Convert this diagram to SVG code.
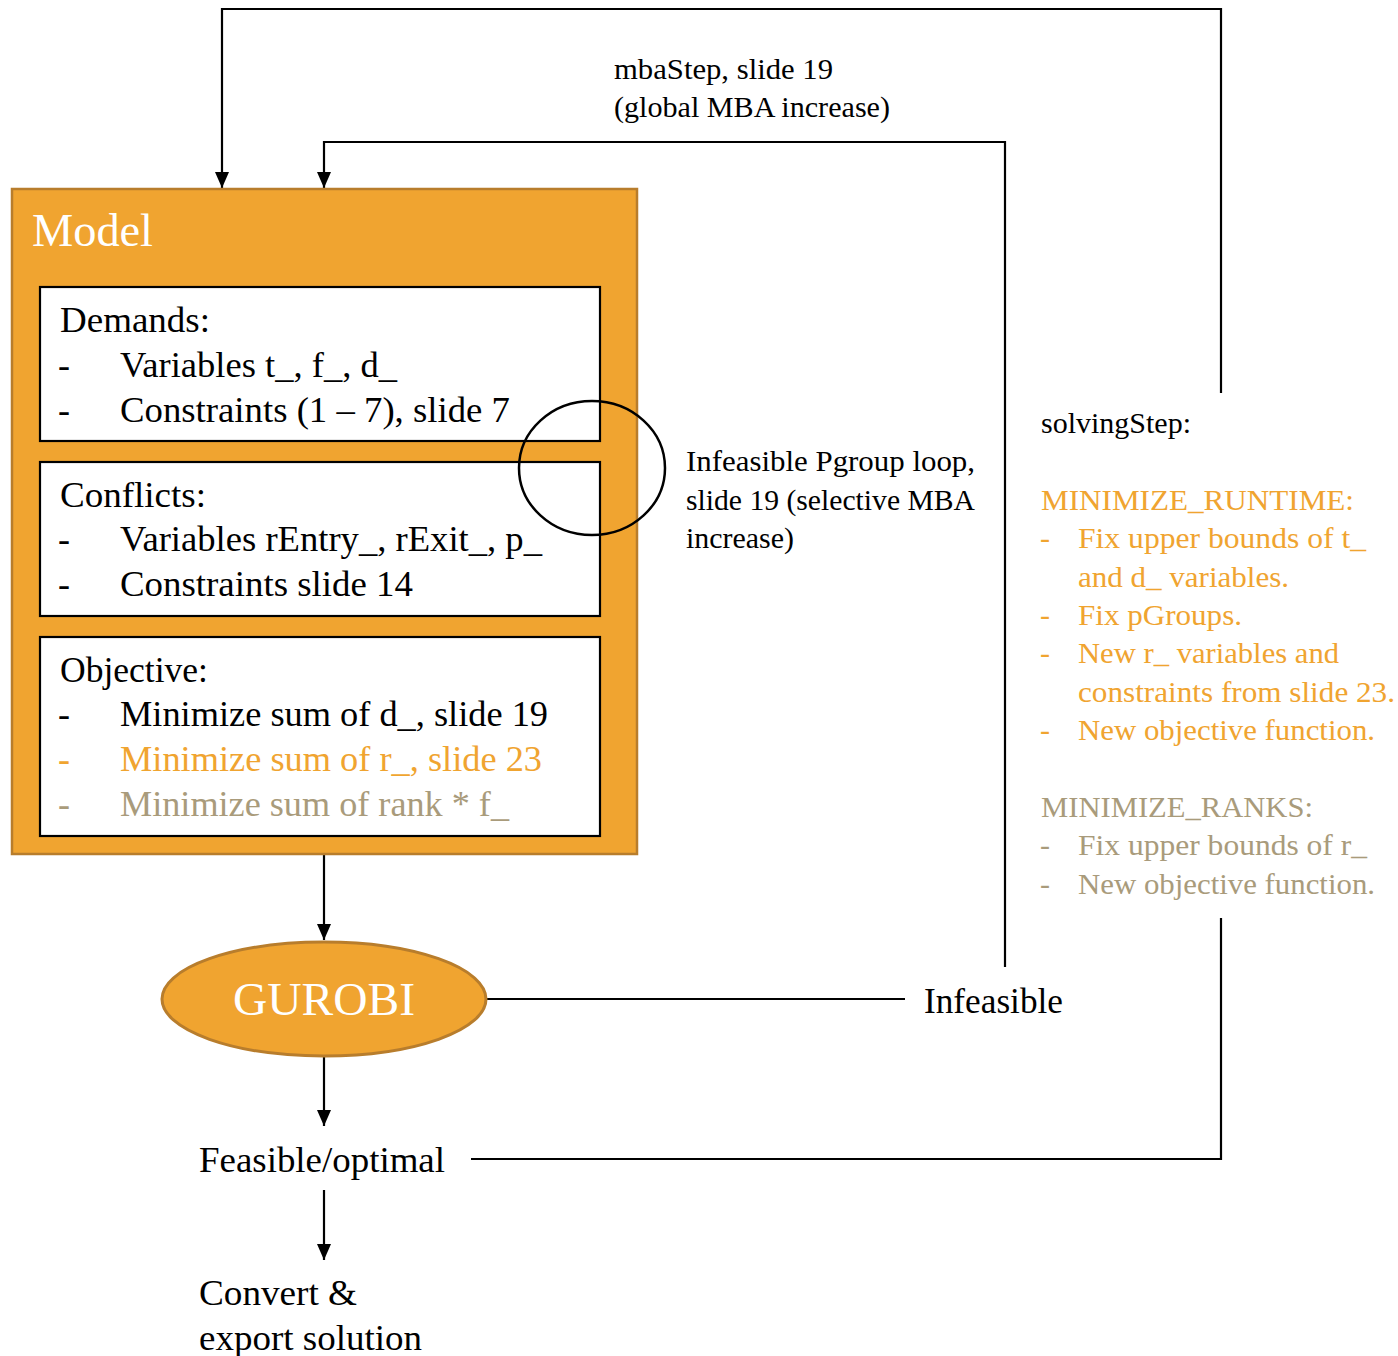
<svg xmlns="http://www.w3.org/2000/svg" width="1398" height="1356" viewBox="0 0 1398 1356">
<defs>
<style>
text{font-family:"Liberation Serif","Times New Roman",serif;fill:#000}
.b{font-size:36px}
.m{font-size:30px}
.or{fill:#F0A430}
.tan{fill:#A99B7B}
.w{fill:#fff}
.box{fill:#fff;stroke:#000;stroke-width:2.2}
.con{fill:none;stroke:#000;stroke-width:2.2}
</style>
<marker id="ah" markerUnits="userSpaceOnUse" markerWidth="14" markerHeight="16" viewBox="0 0 14 16" refX="7" refY="16" orient="auto-start-reverse">
<path d="M0,0 L14,0 L7,16 Z" fill="#000" transform="rotate(0)"/>
</marker>
<marker id="ad" markerUnits="userSpaceOnUse" markerWidth="16" markerHeight="14" viewBox="0 0 16 14" refX="16" refY="7" orient="auto">
<path d="M0,0 L16,7 L0,14 Z" fill="#000"/>
</marker>
</defs>
<rect width="1398" height="1356" fill="#fff"/>

<g id="connectors">
<polyline class="con" points="1221,393 1221,9 222,9 222,188" marker-end="url(#ad)"/>
<polyline class="con" points="1005,967 1005,142 324,142 324,188" marker-end="url(#ad)"/>
<polyline class="con" points="1221,918 1221,1159 471,1159"/>
<line class="con" x1="487" y1="999" x2="905" y2="999"/>
<line class="con" x1="324" y1="855" x2="324" y2="940" marker-end="url(#ad)"/>
<line class="con" x1="324" y1="1057" x2="324" y2="1126" marker-end="url(#ad)"/>
<line class="con" x1="324" y1="1190" x2="324" y2="1260" marker-end="url(#ad)"/>
</g>

<g id="model">
<rect x="12" y="189" width="625" height="665" fill="#F0A430" stroke="#B87D2C" stroke-width="2.5"/>
<text class="w" x="32" y="246" font-size="46" textLength="121" lengthAdjust="spacingAndGlyphs">Model</text>
</g>

<g id="demands">
<rect class="box" x="40" y="287" width="560" height="154"/>
<text class="b" x="60" y="332" textLength="150" lengthAdjust="spacingAndGlyphs">Demands:</text>
<text class="b" x="58" y="377">-</text>
<text class="b" x="120" y="377" textLength="277" lengthAdjust="spacingAndGlyphs">Variables t_, f_, d_</text>
<text class="b" x="58" y="422">-</text>
<text class="b" x="120" y="422" textLength="390" lengthAdjust="spacingAndGlyphs">Constraints (1 – 7), slide 7</text>
</g>

<g id="conflicts">
<rect class="box" x="40" y="462" width="560" height="154"/>
<text class="b" x="60" y="507" textLength="146" lengthAdjust="spacingAndGlyphs">Conflicts:</text>
<text class="b" x="58" y="551">-</text>
<text class="b" x="120" y="551" textLength="422" lengthAdjust="spacingAndGlyphs">Variables rEntry_, rExit_, p_</text>
<text class="b" x="58" y="596">-</text>
<text class="b" x="120" y="596" textLength="293" lengthAdjust="spacingAndGlyphs">Constraints slide 14</text>
</g>

<g id="objective">
<rect class="box" x="40" y="637" width="560" height="199"/>
<text class="b" x="60" y="682" textLength="148" lengthAdjust="spacingAndGlyphs">Objective:</text>
<text class="b" x="58" y="726">-</text>
<text class="b" x="120" y="726" textLength="428" lengthAdjust="spacingAndGlyphs">Minimize sum of d_, slide 19</text>
<text class="b or" x="58" y="771">-</text>
<text class="b or" x="120" y="771" textLength="422" lengthAdjust="spacingAndGlyphs">Minimize sum of r_, slide 23</text>
<text class="b tan" x="58" y="816">-</text>
<text class="b tan" x="120" y="816" textLength="389" lengthAdjust="spacingAndGlyphs">Minimize sum of rank * f_</text>
</g>

<g id="pgroup-loop">
<ellipse cx="592" cy="468" rx="73" ry="67" fill="none" stroke="#000" stroke-width="2.5"/>
<text class="m" x="686" y="471" textLength="289" lengthAdjust="spacingAndGlyphs">Infeasible Pgroup loop,</text>
<text class="m" x="686" y="510" textLength="289" lengthAdjust="spacingAndGlyphs">slide 19 (selective MBA</text>
<text class="m" x="686" y="548" textLength="108" lengthAdjust="spacingAndGlyphs">increase)</text>
</g>

<g id="mbastep">
<text class="m" x="614" y="79" textLength="219" lengthAdjust="spacingAndGlyphs">mbaStep, slide 19</text>
<text class="m" x="614" y="117" textLength="276" lengthAdjust="spacingAndGlyphs">(global MBA increase)</text>
</g>

<g id="solvingstep">
<text class="m" x="1041" y="433" textLength="150" lengthAdjust="spacingAndGlyphs">solvingStep:</text>
<text class="m or" x="1041" y="510" textLength="313" lengthAdjust="spacingAndGlyphs">MINIMIZE_RUNTIME:</text>
<text class="m or" x="1040" y="548">-</text>
<text class="m or" x="1078" y="548" textLength="288" lengthAdjust="spacingAndGlyphs">Fix upper bounds of t_</text>
<text class="m or" x="1078" y="587" textLength="211" lengthAdjust="spacingAndGlyphs">and d_ variables.</text>
<text class="m or" x="1040" y="625">-</text>
<text class="m or" x="1078" y="625" textLength="164" lengthAdjust="spacingAndGlyphs">Fix pGroups.</text>
<text class="m or" x="1040" y="663">-</text>
<text class="m or" x="1078" y="663" textLength="261" lengthAdjust="spacingAndGlyphs">New r_ variables and</text>
<text class="m or" x="1078" y="702" textLength="317" lengthAdjust="spacingAndGlyphs">constraints from slide 23.</text>
<text class="m or" x="1040" y="740">-</text>
<text class="m or" x="1078" y="740" textLength="297" lengthAdjust="spacingAndGlyphs">New objective function.</text>
<text class="m tan" x="1041" y="817" textLength="272" lengthAdjust="spacingAndGlyphs">MINIMIZE_RANKS:</text>
<text class="m tan" x="1040" y="855">-</text>
<text class="m tan" x="1078" y="855" textLength="289" lengthAdjust="spacingAndGlyphs">Fix upper bounds of r_</text>
<text class="m tan" x="1040" y="894">-</text>
<text class="m tan" x="1078" y="894" textLength="297" lengthAdjust="spacingAndGlyphs">New objective function.</text>
</g>

<g id="gurobi">
<ellipse cx="324" cy="999" rx="162" ry="57" fill="#F0A430" stroke="#B87D2C" stroke-width="3"/>
<text class="w" x="324" y="1015" font-size="46" text-anchor="middle" textLength="182" lengthAdjust="spacingAndGlyphs">GUROBI</text>
</g>

<g id="infeasible">
<text class="b" x="924" y="1013" textLength="139" lengthAdjust="spacingAndGlyphs">Infeasible</text>
</g>

<g id="feasible">
<text class="b" x="199" y="1172" textLength="246" lengthAdjust="spacingAndGlyphs">Feasible/optimal</text>
</g>

<g id="export">
<text class="b" x="199" y="1305" textLength="158" lengthAdjust="spacingAndGlyphs">Convert &amp;</text>
<text class="b" x="199" y="1350" textLength="223" lengthAdjust="spacingAndGlyphs">export solution</text>
</g>
</svg>
